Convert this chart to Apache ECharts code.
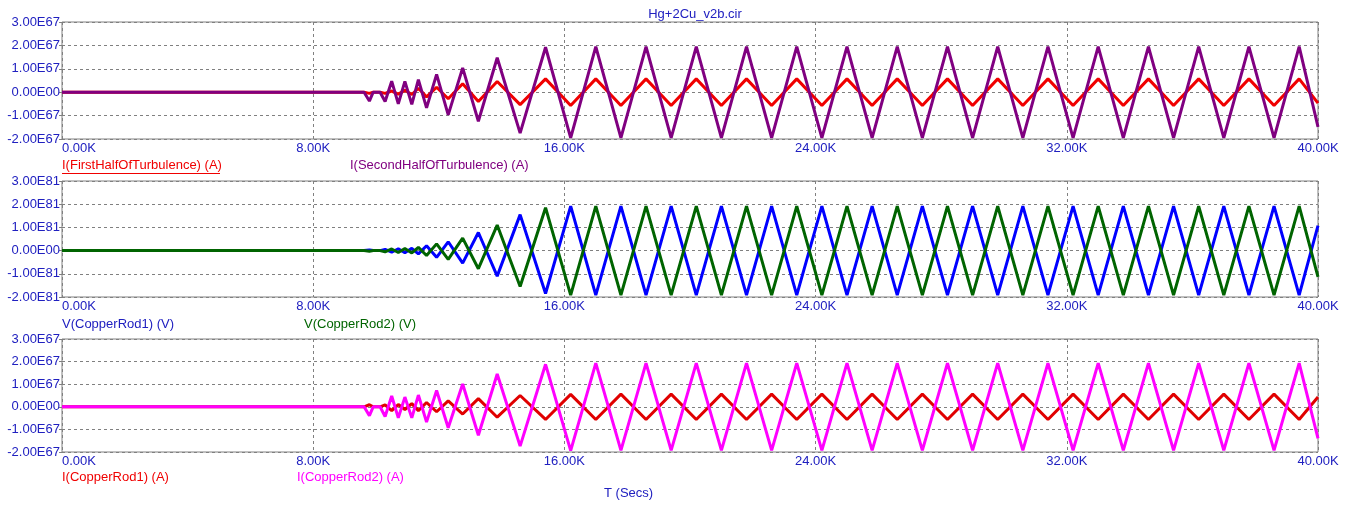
<!DOCTYPE html>
<html>
<head>
<meta charset="utf-8">
<title>Hg+2Cu_v2b.cir</title>
<script src="https://cdn.jsdelivr.net/npm/echarts@6/dist/echarts.min.js"></script>
<style>
  html, body { margin: 0; padding: 0; background: #fff; }
  #chart { width: 1353px; height: 513px; }
</style>
</head>
<body>
<div id="chart"></div>
<script>
// time points, in K seconds (samples at the peaks of the waveforms)
var timeK = [0, 9.62, 9.79, 9.91, 10.13,
  10.29, 10.50, 10.71, 10.92, 11.14, 11.35, 11.61, 11.93, 12.30, 12.76, 13.26, 13.86, 14.59,
  15.40, 16.20, 17.00, 17.80, 18.60, 19.40, 20.20, 21.00, 21.80, 22.60, 23.40, 24.20, 25.00,
  25.80, 26.60, 27.40, 28.20, 29.00, 29.80, 30.60, 31.40, 32.20, 33.00, 33.80, 34.60, 35.40,
  36.20, 37.00, 37.80, 38.60, 39.40, 40.00];

// panel 1, units of 1E67 A
var iFirstHalf = [0, 0, -0.05, 0, 0,
  -0.05, 0.05, -0.08, 0.08, -0.10, 0.17, -0.20, 0.21, -0.28, 0.36, -0.40, 0.46, -0.53,
  0.57, -0.57, 0.57, -0.57, 0.57, -0.57, 0.57, -0.57, 0.57, -0.57, 0.57, -0.57, 0.57,
  -0.57, 0.57, -0.57, 0.57, -0.57, 0.57, -0.57, 0.57, -0.57, 0.57, -0.57, 0.57, -0.57,
  0.57, -0.57, 0.57, -0.57, 0.57, -0.47];
var iSecondHalf = [0, 0, -0.38, 0, 0,
  -0.40, 0.47, -0.50, 0.46, -0.52, 0.54, -0.67, 0.76, -0.97, 1.04, -1.24, 1.47, -1.75,
  1.92, -1.95, 1.95, -1.95, 1.95, -1.95, 1.95, -1.95, 1.95, -1.95, 1.95, -1.95, 1.95,
  -1.95, 1.95, -1.95, 1.95, -1.95, 1.95, -1.95, 1.95, -1.95, 1.95, -1.95, 1.95, -1.95,
  1.95, -1.95, 1.95, -1.95, 1.95, -1.48];

// panel 2, units of 1E81 V
var vCopperRod1 = [0, 0, 0.03, 0, 0,
  0.05, -0.07, 0.08, -0.09, 0.10, -0.14, 0.21, -0.29, 0.38, -0.54, 0.78, -1.10, 1.55,
  -1.85, 1.92, -1.92, 1.92, -1.92, 1.92, -1.92, 1.92, -1.92, 1.92, -1.92, 1.92, -1.92,
  1.92, -1.92, 1.92, -1.92, 1.92, -1.92, 1.92, -1.92, 1.92, -1.92, 1.92, -1.92, 1.92,
  -1.92, 1.92, -1.92, 1.92, -1.92, 1.08];
var vCopperRod2 = [0, 0, -0.03, 0, 0,
  -0.05, 0.07, -0.08, 0.09, -0.10, 0.14, -0.21, 0.29, -0.38, 0.54, -0.78, 1.10, -1.55,
  1.85, -1.92, 1.92, -1.92, 1.92, -1.92, 1.92, -1.92, 1.92, -1.92, 1.92, -1.92, 1.92,
  -1.92, 1.92, -1.92, 1.92, -1.92, 1.92, -1.92, 1.92, -1.92, 1.92, -1.92, 1.92, -1.92,
  1.92, -1.92, 1.92, -1.92, 1.92, -1.13];

// panel 3, units of 1E67 A
var iCopperRod1 = [0, 0, 0.09, 0, 0,
  0.09, -0.17, 0.10, -0.12, 0.14, -0.17, 0.19, -0.22, 0.26, -0.32, 0.36, -0.46, 0.50,
  -0.56, 0.55, -0.56, 0.56, -0.56, 0.56, -0.56, 0.56, -0.56, 0.56, -0.56, 0.56, -0.56,
  0.56, -0.56, 0.56, -0.56, 0.56, -0.56, 0.56, -0.56, 0.56, -0.56, 0.56, -0.56, 0.56,
  -0.56, 0.56, -0.56, 0.56, -0.56, 0.43];
var iCopperRod2 = [0, 0, -0.39, 0, 0,
  -0.43, 0.48, -0.49, 0.43, -0.49, 0.52, -0.68, 0.72, -0.93, 1.01, -1.26, 1.45, -1.74,
  1.88, -1.94, 1.93, -1.93, 1.93, -1.93, 1.93, -1.93, 1.93, -1.93, 1.93, -1.93, 1.93,
  -1.93, 1.93, -1.93, 1.93, -1.93, 1.93, -1.93, 1.93, -1.93, 1.93, -1.93, 1.93, -1.93,
  1.93, -1.93, 1.93, -1.93, 1.93, -1.40];

// exponent shown on each panel's y labels
var panelExp = ['E67', 'E81', 'E67'];

var FONT = '"Liberation Sans", Arial, sans-serif';
var LBL = '#2020c0';
var chart = echarts.init(document.getElementById('chart'));

function pairs(arr) {
  return timeK.map(function (t, i) { return [t, arr[i]]; });
}

var grids = [
  {left: 62, width: 1256, top: 22, height: 117},
  {left: 62, width: 1256, top: 181, height: 116},
  {left: 62, width: 1256, top: 339, height: 113}
];

var xAxes = [], yAxes = [];
grids.forEach(function (g, k) {
  g.show = true;
  g.borderColor = '#808080';
  g.borderWidth = 1;
  g.backgroundColor = '#fff';
  xAxes.push({
    type: 'value', gridIndex: k, min: 0, max: 40, interval: 8,
    axisLine: {show: false}, axisTick: {show: false},
    axisLabel: {
      color: LBL, fontFamily: FONT, fontSize: 13, margin: 3,
      alignMinLabel: 'left',
      formatter: function (v) { return v.toFixed(2) + 'K'; }
    },
    splitLine: {lineStyle: {color: '#808080', type: [3, 3], width: 1}}
  });
  yAxes.push({
    type: 'value', gridIndex: k, min: -2, max: 3, interval: 1,
    axisLine: {show: false},
    axisTick: {show: true, length: 3, lineStyle: {color: '#808080'}},
    axisLabel: {
      color: LBL, fontFamily: FONT, fontSize: 13, margin: 2,
      formatter: function (v) {
        if (v === 0) return '0.00E00';
        return v.toFixed(2) + panelExp[k];
      }
    },
    splitLine: {lineStyle: {color: '#808080', type: [3, 3], width: 1}}
  });
});

function line(name, arr, color, k) {
  return {
    name: name, type: 'line', xAxisIndex: k, yAxisIndex: k,
    data: pairs(arr), showSymbol: false, animation: false,
    lineStyle: {color: color, width: 3}, itemStyle: {color: color}
  };
}

// legend texts sit under each panel like the simulator's trace names
function txt(x, y, s, color) {
  return {
    type: 'text', left: x, top: y,
    style: {text: s, fill: color, font: '13px ' + FONT}
  };
}

var option = {
  animation: false,
  title: {
    text: 'Hg+2Cu_v2b.cir', left: 690, top: 3, textAlign: 'center',
    textStyle: {color: LBL, fontFamily: FONT, fontSize: 13, fontWeight: 'normal'}
  },
  grid: grids,
  xAxis: xAxes,
  yAxis: yAxes,
  series: [
    line('I(FirstHalfOfTurbulence) (A)', iFirstHalf, '#f00000', 0),
    line('I(SecondHalfOfTurbulence) (A)', iSecondHalf, '#800080', 0),
    line('V(CopperRod1) (V)', vCopperRod1, '#0000ff', 1),
    line('V(CopperRod2) (V)', vCopperRod2, '#006400', 1),
    line('I(CopperRod1) (A)', iCopperRod1, '#e00000', 2),
    line('I(CopperRod2) (A)', iCopperRod2, '#ff00ff', 2)
  ],
  graphic: [
    txt(62, 159, 'I(FirstHalfOfTurbulence) (A)', '#f00000'),
    {type: 'line', shape: {x1: 62, y1: 173.5, x2: 220, y2: 173.5}, style: {stroke: '#f00000', lineWidth: 1}},
    txt(350, 159, 'I(SecondHalfOfTurbulence) (A)', '#800080'),
    txt(62, 318, 'V(CopperRod1) (V)', '#2020c0'),
    txt(304, 318, 'V(CopperRod2) (V)', '#006400'),
    txt(62, 471, 'I(CopperRod1) (A)', '#f00000'),
    txt(297, 471, 'I(CopperRod2) (A)', '#ff00ff'),
    txt(604, 487, 'T (Secs)', '#2020c0')
  ]
};
chart.setOption(option);
</script>
</body>
</html>
